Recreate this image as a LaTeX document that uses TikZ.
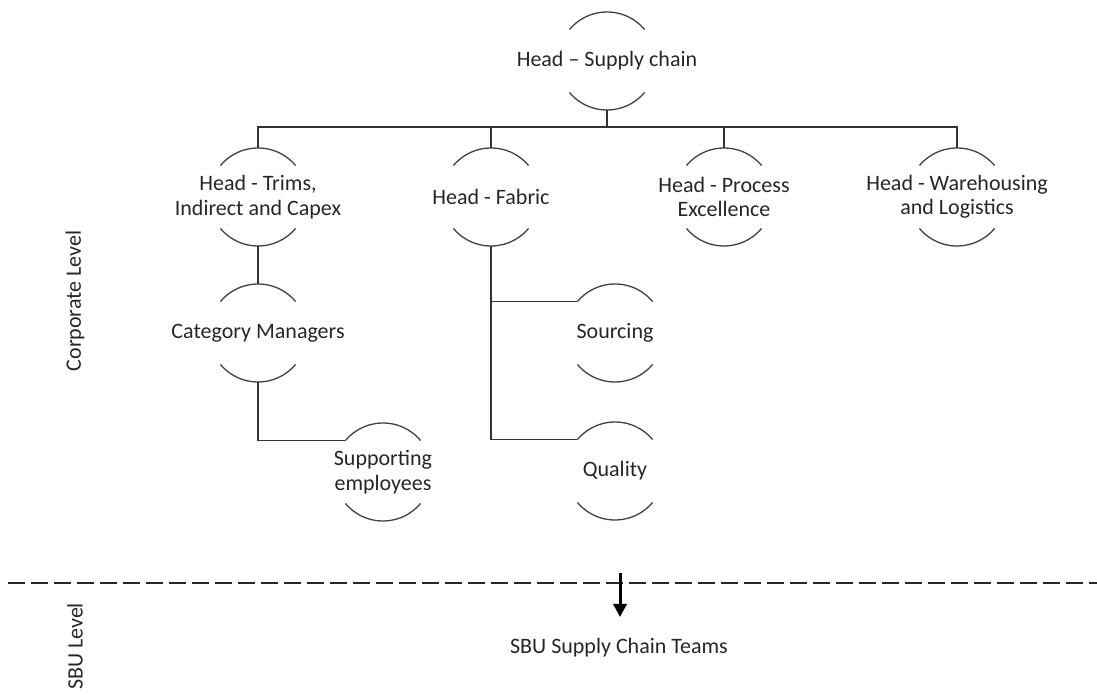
\documentclass[tikz,border=0pt]{standalone}
\usepackage{fontspec}
\setmainfont{Carlito}
\usetikzlibrary{arrows.meta}

% one organisational unit: a text node framed by a top and a bottom arc
\newcommand{\orgunit}[3]{%
  \node[unit] (#1) at (#2) {#3};
  \coordinate (#1-t)  at ([yshift=49pt]#1.center);
  \coordinate (#1-b)  at ([yshift=-49pt]#1.center);
  \coordinate (#1-tl) at ([shift={(140:49pt)}]#1.center);
  \draw[rim] ([shift={(40:49pt)}]#1.center) arc[start angle=40,end angle=140,radius=49pt];
  \draw[rim] ([shift={(220:49pt)}]#1.center) arc[start angle=220,end angle=320,radius=49pt];
}

\begin{document}
\begin{tikzpicture}[x=1pt,y=1pt,
  every node/.style={font=\fontsize{22}{24.5}\selectfont, text=black!85},
  unit/.style={align=center, inner sep=0pt},
  rim/.style={draw=black!75, line width=1.3pt},
  link/.style={draw=black!80, line width=1.3pt},
  divider/.style={draw=black!85, line width=2.2pt, dash pattern=on 17pt off 6pt},
  drop/.style={draw=black, line width=3pt, -{Triangle[length=13pt,width=13pt]}}]
\useasboundingbox (0,0) rectangle (1097,695);

% units
\orgunit{hsc}{607,634}{Head -- Supply chain}
\orgunit{htr}{258,498}{Head - Trims,\\Indirect and Capex}
\orgunit{hfa}{491,498}{Head - Fabric}
\orgunit{hpe}{724,498}{Head - Process\\Excellence}
\orgunit{hwl}{957,498}{Head - Warehousing\\and Logistics}
\orgunit{cat}{258,362}{Category Managers}
\orgunit{src}{615,362}{Sourcing}
\orgunit{sup}{383,223}{Supporting\\employees}
\orgunit{qua}{615,224}{Quality}

% level labels
\node[rotate=90] (corp) at (75,394) {Corporate Level};
\node[rotate=90] (sbul) at (75,48.5) {SBU Level};
\node (sbu) at (619,47) {SBU Supply Chain Teams};

% reporting lines
\coordinate (bus) at (607,568);
\draw[link] (hsc-b) -- (bus);
\draw[link] (htr-t) |- (bus) -| (hwl-t);
\draw[link] (hfa-t) -- (hfa-t |- bus);
\draw[link] (hpe-t) -- (hpe-t |- bus);
\draw[link] (htr-b) -- (cat-t);
\draw[link] (cat-b) |- (sup-tl);
\draw[link] (hfa-b) |- (qua-tl);
\draw[link] (hfa-b |- src-tl) -- (src-tl);

% corporate / SBU divide
\coordinate (divL) at (8,112.3);
\coordinate (divR) at (1097,112.3);
\draw[divider] (divL) -- (divR);
\coordinate (dropTop) at (620,122);
\coordinate (dropTip) at (620,78);
\draw[drop] (dropTop) -- (dropTip);
\end{tikzpicture}
\end{document}
